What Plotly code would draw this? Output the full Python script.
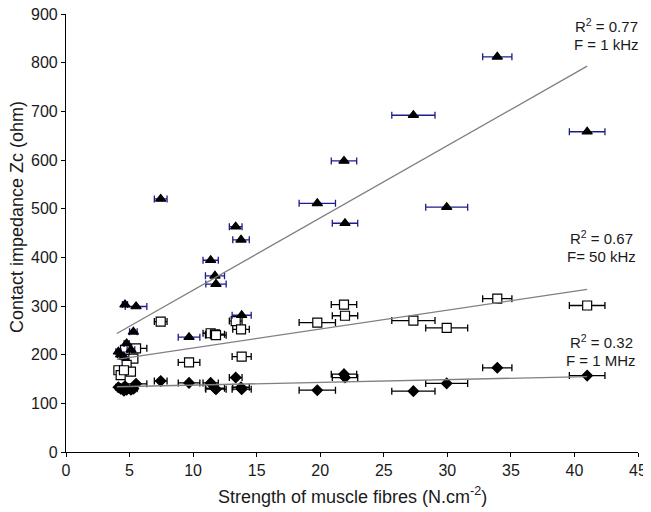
import plotly.graph_objects as go

# Strength of muscle fibres (N.cm-2), shared by the three frequencies
strength = [41.0, 33.93, 29.95, 27.33, 21.87, 21.95, 19.77, 13.35, 13.77, 13.82,
            11.38, 11.72, 11.8, 9.68, 7.45, 5.51, 4.64, 5.3, 4.77, 4.12, 4.3, 5.11, 4.56]
strength_err = [1.4, 1.15, 1.65, 1.7, 1.0, 1.0, 1.43, 0.5, 0.65, 0.75,
                0.6, 0.75, 0.8, 0.85, 0.5, 0.85, 0.2, 0.3, 0.2, 0.2, 0.25, 0.3, 0.2]

z_1khz = [658, 812, 503, 692, 598, 470, 511, 463, 436, 281,
          394, 362, 345, 236, 520, 299, 303, 247, 223, 206, 200, 210, 195]
z_50khz = [301, 315, 255, 270, 303, 280, 266, 269, 252, 196,
           244, 242, 240, 184, 268, 213, 210, 192, 179, 168, 158, 165, 168]
z_1mhz = [157, 173, 141, 125, 160, 153, 127, 153, 133, 129,
          142, 131, 129, 142, 146, 140, 135, 130, 128, 133, 130, 128, 126]

# linear trend lines: (slope, intercept), drawn over x range
trend_range = [4.0, 41.0]
trend_1khz = (14.85, 184.0)
trend_50khz = (3.88, 175.0)
trend_1mhz = (0.565, 131.8)

# trend labels: text, x, y (data units)
labels = [
    ("R<sup>2</sup> = 0.77", 42.55, 877),
    ("F = 1 kHz", 42.5, 838),
    ("R<sup>2</sup> = 0.67", 42.15, 440),
    ("F= 50 kHz", 42.1, 401),
    ("R<sup>2</sup> = 0.32", 42.15, 228),
    ("F = 1 MHz", 42.1, 189),
]

x_title = "Strength of muscle fibres (N.cm<sup>-2</sup>)"
y_title = "Contact impedance Zc (ohm)"

FONT = "Liberation Sans, Arial, sans-serif"
TXT = "#1a1a1a"
fig = go.Figure()

def add_series(y, symbol, size, fill, errcolor):
    fig.add_trace(go.Scatter(
        x=strength, y=y, mode="markers",
        marker=dict(symbol=symbol, size=size, color=fill,
                    line=dict(color="black", width=1.2)),
        error_x=dict(type="data", array=strength_err, visible=True,
                     color=errcolor, thickness=1.3, width=3.5),
        showlegend=False))

add_series(z_1mhz, "diamond", 8, "black", "black")
add_series(z_50khz, "square", 9, "white", "black")
add_series(z_1khz, "triangle-up", 9, "black", "#1c1c8c")

for slope, icpt in (trend_1khz, trend_50khz, trend_1mhz):
    fig.add_trace(go.Scatter(
        x=trend_range, y=[slope * v + icpt for v in trend_range],
        mode="lines", line=dict(color="#808080", width=1.3),
        showlegend=False, hoverinfo="skip"))

for text, lx, ly in labels:
    fig.add_annotation(x=lx, y=ly, xref="x", yref="y", text=text,
                       showarrow=False, xanchor="center", yanchor="middle",
                       font=dict(size=15, color=TXT, family=FONT))

fig.add_annotation(x=0.5, y=-0.1, xref="paper", yref="paper", text=x_title,
                   showarrow=False, xanchor="center", yanchor="middle",
                   font=dict(size=18, color=TXT, family=FONT))
fig.add_annotation(x=-0.0857, y=0.5365, xref="paper", yref="paper", text=y_title,
                   showarrow=False, xanchor="center", yanchor="middle", textangle=-90,
                   font=dict(size=18, color=TXT, family=FONT))

axis_common = dict(showgrid=False, zeroline=False, showline=True,
                   linecolor="black", linewidth=1.2, ticks="outside",
                   ticklen=4, tickcolor="black", ticklabeloverflow="allow",
                   tickfont=dict(size=16, color=TXT, family=FONT))

fig.update_xaxes(range=[0, 45], dtick=5, tick0=0, **axis_common)
fig.update_yaxes(range=[0, 900], dtick=100, tick0=0, **axis_common)

fig.update_layout(width=643, height=504,
                  margin=dict(l=58, r=13, t=6, b=60, autoexpand=False),
                  paper_bgcolor="white", plot_bgcolor="white",
                  font=dict(family=FONT))

fig.write_html("out.html")
